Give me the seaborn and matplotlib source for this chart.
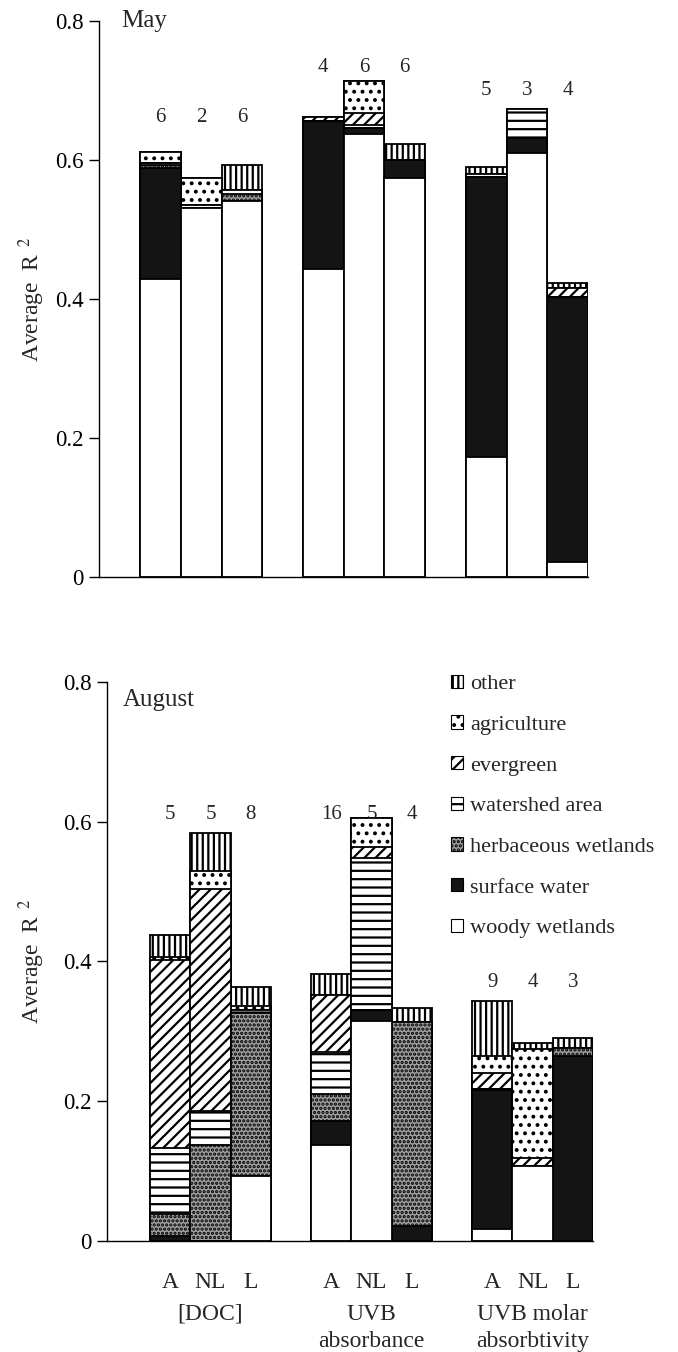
import numpy as np
import pandas as pd
import matplotlib
matplotlib.use("Agg")
import matplotlib.pyplot as plt
import seaborn as sns
from matplotlib.patches import Patch
from matplotlib.transforms import blended_transform_factory

# ---------------- data ----------------
slots = ["DOC-A", "DOC-NL", "DOC-L", "gap1", "UVB-A", "UVB-NL", "UVB-L",
         "gap2", "MOL-A", "MOL-NL", "MOL-L"]
bar_slots = [s for s in slots if not s.startswith("gap")]
slot_labels = ["A", "NL", "L", "", "A", "NL", "L", "", "A", "NL", "L"]
groups = ["[DOC]", "UVB\nabsorbance", "UVB molar\nabsorbtivity"]
layers = ["woody wetlands", "surface water", "herbaceous wetlands",
          "watershed area", "evergreen", "agriculture", "other"]

# May (order of bar_slots)
may_woody = [0.428, 0.530, 0.540, 0.443, 0.637, 0.573, 0.173, 0.610, 0.022]
may_surface = [0.160, 0.0, 0.0, 0.212, 0.009, 0.027, 0.402, 0.021, 0.381]
may_herb = [0.004, 0.0, 0.010, 0.0, 0.0, 0.0, 0.0, 0.0, 0.0]
may_watershed = [0.003, 0.005, 0.006, 0.0, 0.004, 0.0, 0.004, 0.042, 0.0]
may_evergreen = [0.0, 0.0, 0.0, 0.007, 0.017, 0.0, 0.0, 0.0, 0.012]
may_agri = [0.016, 0.039, 0.0, 0.0, 0.046, 0.0, 0.0, 0.0, 0.0]
may_other = [0.0, 0.0, 0.037, 0.0, 0.0, 0.022, 0.010, 0.0, 0.007]
may_n = [6, 2, 6, 4, 6, 6, 5, 3, 4]

# August
aug_woody = [0.0, 0.0, 0.093, 0.138, 0.314, 0.0, 0.017, 0.107, 0.0]
aug_surface = [0.007, 0.0, 0.0, 0.033, 0.016, 0.021, 0.199, 0.0, 0.264]
aug_herb = [0.031, 0.138, 0.233, 0.039, 0.0, 0.292, 0.002, 0.0, 0.012]
aug_watershed = [0.095, 0.048, 0.005, 0.061, 0.218, 0.0, 0.0, 0.0, 0.0]
aug_evergreen = [0.269, 0.317, 0.0, 0.081, 0.016, 0.0, 0.022, 0.012, 0.0]
aug_agri = [0.004, 0.026, 0.005, 0.0, 0.041, 0.0, 0.024, 0.155, 0.0]
aug_other = [0.032, 0.054, 0.027, 0.030, 0.0, 0.020, 0.079, 0.009, 0.014]
aug_n = [5, 5, 8, 16, 5, 4, 9, 4, 3]

yticks = [0, 0.2, 0.4, 0.6, 0.8]
ytick_labels = ["0", "0.2", "0.4", "0.6", "0.8"]

# ---------------- style ----------------
sns.set_theme(style="ticks")
plt.rcParams["font.family"] = ["Liberation Serif", "DejaVu Serif"]
plt.rcParams["mathtext.fontset"] = "stix"
plt.rcParams["hatch.linewidth"] = 1.6
plt.rcParams["hatch.color"] = "black"

styles = {
    "woody wetlands": dict(fc="white", hatch=None),
    "surface water": dict(fc="#141414", hatch=None),
    "herbaceous wetlands": dict(fc="#a0a0a0", hatch="...."),
    "watershed area": dict(fc="white", hatch="--"),
    "evergreen": dict(fc="white", hatch="///"),
    "agriculture": dict(fc="white", hatch=".."),
    "other": dict(fc="white", hatch="|||"),
}

fig = plt.figure(figsize=(6.78, 13.52), dpi=100)
ax1 = fig.add_axes([0.1456, 0.5732, 0.7217, 0.4116])
ax2 = fig.add_axes([0.1578, 0.0821, 0.7168, 0.4137])


def draw(ax, vals, counts, count_y):
    df = pd.DataFrame({"slot": bar_slots})
    cum = np.zeros(len(bar_slots))
    cums = []
    for name in layers:
        cum = cum + np.asarray(vals[name])
        cums.append(cum.copy())
    for name, c in reversed(list(zip(layers, cums))):
        df["h"] = c
        st = styles[name]
        sns.barplot(data=df, x="slot", y="h", order=slots, color=st["fc"],
                    hatch=st["hatch"], edgecolor="black", linewidth=1.3,
                    width=1.0, saturation=1, errorbar=None, ax=ax)
    for s, n, y in zip(bar_slots, counts, count_y):
        ax.text(slots.index(s), y, str(n), ha="center", va="center",
                fontsize=15)
    ax.set_ylim(0, 0.8)
    ax.set_yticks(yticks)
    ax.set_yticklabels(ytick_labels, fontsize=16.5)
    ax.tick_params(axis="y", direction="out", length=7, width=1, pad=4,
                   colors="black")
    ax.tick_params(axis="x", length=0)
    ax.set_xlabel("")
    ax.set_ylabel(r"Average  R$^{\ \ 2}$", fontsize=17)
    ax.yaxis.label.set_verticalalignment("center")
    sns.despine(ax=ax)
    for sp in ("left", "bottom"):
        ax.spines[sp].set_linewidth(1.0)
        ax.spines[sp].set_color("black")


may_vals = {"woody wetlands": may_woody, "surface water": may_surface,
            "herbaceous wetlands": may_herb, "watershed area": may_watershed,
            "evergreen": may_evergreen, "agriculture": may_agri,
            "other": may_other}
aug_vals = {"woody wetlands": aug_woody, "surface water": aug_surface,
            "herbaceous wetlands": aug_herb, "watershed area": aug_watershed,
            "evergreen": aug_evergreen, "agriculture": aug_agri,
            "other": aug_other}

may_label_y = [0.661] * 3 + [0.733] * 3 + [0.70] * 3
aug_label_y = [0.61] * 3 + [0.61] * 3 + [0.37] * 3

draw(ax1, may_vals, may_n, may_label_y)
draw(ax2, aug_vals, aug_n, aug_label_y)

ax1.set_xlim(-1.515, 10.5)
ax2.set_xlim(-1.57, 10.5)
ax1.set_xticks(range(len(slots)))
ax1.set_xticklabels([""] * len(slots))
ax2.set_xticks(range(len(slots)))
ax2.set_xticklabels(slot_labels, fontsize=17)
ax2.tick_params(axis="x", pad=22)

ax1.yaxis.set_label_coords(-0.136, 0.5)
ax2.yaxis.set_label_coords(-0.154, 0.5)

ax1.text(0.045, 1.0, "May", transform=ax1.transAxes, fontsize=18,
         ha="left", va="center")
ax2.text(0.033, 0.967, "August", transform=ax2.transAxes, fontsize=18,
         ha="left", va="center")

tr = blended_transform_factory(ax2.transData, ax2.transAxes)
for gi, g in enumerate(groups):
    ax2.text(1 + 4 * gi, -0.112, g, transform=tr, ha="center", va="top",
             fontsize=17, linespacing=1.4)

handles = [Patch(facecolor=styles[n]["fc"], hatch=styles[n]["hatch"],
                 edgecolor="black", linewidth=0.8) for n in reversed(layers)]
fig.legend(handles, list(reversed(layers)), loc="upper left",
           bbox_to_anchor=(0.665, 0.501), frameon=False, fontsize=16,
           handlelength=0.55, handleheight=0.55, handletextpad=0.3,
           labelspacing=0.95, borderpad=0, borderaxespad=0)

fig.savefig("out.png", dpi=100)
